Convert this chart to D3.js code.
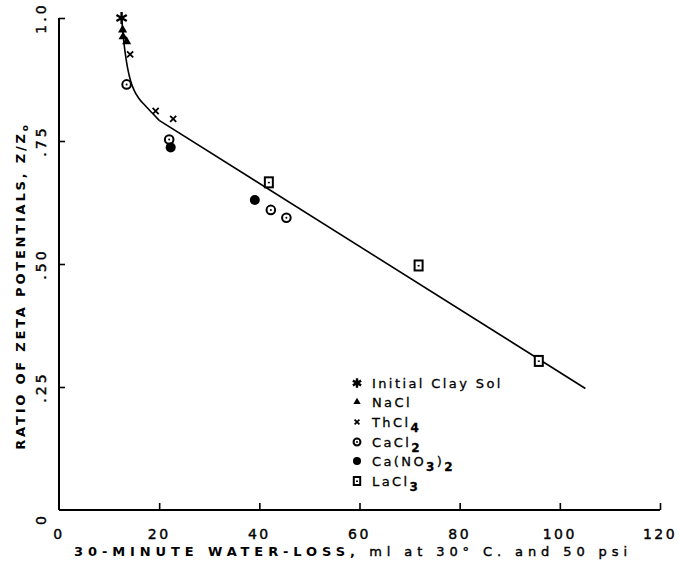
<!DOCTYPE html>
<html><head><meta charset="utf-8">
<script src="https://cdn.jsdelivr.net/npm/d3@7/dist/d3.min.js"></script>
<style>body{margin:0;background:#fff}svg{display:block}text{font-family:"DejaVu Sans",sans-serif;fill:#000}</style>
</head><body><svg id="c" width="679" height="564"></svg>
<script>
// ---- data ----
const xTicks = [0, 20, 40, 60, 80, 100, 120];
const xTickLabels = ["0", "20", "40", "60", "80", "100", "120"];
const yTicks = [0, 0.25, 0.5, 0.75, 1.0];
const yTickLabels = ["0", ".25", ".50", ".75", "1.0"];

const initialX = [12.5];
const initialY = [1.0];
const naclX = [12.7, 12.8, 13.5];
const naclY = [0.976, 0.962, 0.952];
const thcl4X = [14.2, 19.3, 22.8];
const thcl4Y = [0.926, 0.811, 0.795];
const cacl2X = [13.5, 22.0, 42.3, 45.4];
const cacl2Y = [0.865, 0.753, 0.610, 0.594];
const canoX = [22.3, 39.1];
const canoY = [0.737, 0.630];
const lacl3X = [41.9, 71.8, 95.8];
const lacl3Y = [0.666, 0.497, 0.303];

// fitted curve
const curveX = [12.5, 12.8, 13.2, 13.7, 14.3, 15.0, 16.0, 17.2, 18.6, 20.0];
const curveY = [1.0, 0.966, 0.93, 0.898, 0.872, 0.853, 0.836, 0.822, 0.807, 0.792];
const lineX = [20.0, 105.1];
const lineY = [0.792, 0.247];

const legendNames = ["Initial Clay Sol", "NaCl", "ThCl4", "CaCl2", "Ca(NO3)2", "LaCl3"];

// ---- drawing ----
const svg = d3.select("#c");
const x = d3.scaleLinear().domain([0, 120]).range([59, 660]);
const y = d3.scaleLinear().domain([0, 1]).range([510, 18]);

// axes
const bottom = svg.append("g").attr("transform", `translate(0,${y(0)})`)
  .call(d3.axisTop(x).tickValues(xTicks.slice(1)).tickSize(7).tickFormat(""));
bottom.select(".domain").attr("d", `M${x(0)},0H${x(120)}`).attr("stroke", "#000").attr("stroke-width", 2);
bottom.selectAll(".tick line").attr("stroke", "#000").attr("stroke-width", 1.6);

const left = svg.append("g").attr("transform", `translate(${x(0)},0)`)
  .call(d3.axisRight(y).tickValues(yTicks.slice(1)).tickSize(6).tickFormat(""));
left.select(".domain").attr("d", `M0,${y(0)}V${y(1)}`).attr("stroke", "#000").attr("stroke-width", 2);
left.selectAll(".tick line").attr("stroke", "#000").attr("stroke-width", 1.6);

// x tick labels
svg.append("g").selectAll("text").data(xTicks).join("text")
  .attr("x", d => x(d)).attr("y", 539).attr("text-anchor", "middle")
  .attr("font-size", 14).attr("letter-spacing", 2.5)
  .attr("stroke", "#000").attr("stroke-width", 0.4)
  .text((d, i) => xTickLabels[i]);

// y tick labels (rotated)
svg.append("g").selectAll("text").data(yTicks).join("text")
  .attr("transform", d => `translate(46,${y(d) + (d === 0 ? 9 : 0)}) rotate(-90)`)
  .attr("text-anchor", "middle").attr("font-size", 14).attr("letter-spacing", 3)
  .attr("stroke", "#000").attr("stroke-width", 0.4)
  .text((d, i) => yTickLabels[i]);

// axis titles
const xt = svg.append("text").attr("x", 353).attr("y", 556).attr("text-anchor", "middle")
  .attr("font-size", 13).attr("font-weight", "bold").attr("letter-spacing", 4.9);
xt.append("tspan").text("30-MINUTE WATER-LOSS, ");
xt.append("tspan").attr("font-weight", "normal").attr("stroke", "#000").attr("stroke-width", 0.4)
  .text("ml at 30° C. and 50 psi");

const yt = svg.append("text").attr("transform", "translate(25,286) rotate(-90)")
  .attr("text-anchor", "middle").attr("font-size", 13).attr("font-weight", "bold").attr("letter-spacing", 2.8);
yt.append("tspan").text("RATIO OF ZETA POTENTIALS, Z/Z");
yt.append("tspan").attr("font-size", 9).attr("dy", 3).text("o");

// fitted curve
svg.append("path").datum(d3.zip(curveX, curveY))
  .attr("d", d3.line().x(d => x(d[0])).y(d => y(d[1])).curve(d3.curveMonotoneX))
  .attr("fill", "none").attr("stroke", "#000").attr("stroke-width", 1.6);
svg.append("path").datum(d3.zip(lineX, lineY))
  .attr("d", d3.line().x(d => x(d[0])).y(d => y(d[1])))
  .attr("fill", "none").attr("stroke", "#000").attr("stroke-width", 1.6);

// marker drawers
function drawMarker(g, type, cx, cy, s) {
  s = s || 1;
  if (type === 0) {
    g.append("path").attr("transform", `translate(${cx},${cy})`)
      .attr("d", d3.symbol(d3.symbolAsterisk, 100 * s * s)())
      .attr("fill", "none").attr("stroke", "#000").attr("stroke-width", 2.4);
    g.append("circle").attr("cx", cx).attr("cy", cy).attr("r", 2.2 * s).attr("fill", "#000");
  } else if (type === 1) {
    g.append("path").attr("transform", `translate(${cx},${cy})`)
      .attr("d", d3.symbol(d3.symbolTriangle, 36 * s * s)()).attr("fill", "#000");
  } else if (type === 2) {
    g.append("path").attr("transform", `translate(${cx},${cy})`)
      .attr("d", d3.symbol(d3.symbolX, 26 * s * s)())
      .attr("fill", "none").attr("stroke", "#000").attr("stroke-width", 1.8);
  } else if (type === 3) {
    g.append("circle").attr("cx", cx).attr("cy", cy).attr("r", 4.3 * s)
      .attr("fill", "#fff").attr("stroke", "#000").attr("stroke-width", 2);
    g.append("circle").attr("cx", cx).attr("cy", cy).attr("r", 1).attr("fill", "#000");
  } else if (type === 4) {
    g.append("circle").attr("cx", cx).attr("cy", cy).attr("r", 5 * s).attr("fill", "#000");
  } else if (type === 5) {
    const w = 8 * s, h = 10 * s;
    g.append("rect").attr("x", cx - w / 2).attr("y", cy - h / 2).attr("width", w).attr("height", h)
      .attr("fill", "#fff").attr("stroke", "#000").attr("stroke-width", 2);
    g.append("rect").attr("x", cx - 1).attr("y", cy - 0.5).attr("width", 2).attr("height", 1.5).attr("fill", "#000");
  }
}

const series = [
  [initialX, initialY], [naclX, naclY], [thcl4X, thcl4Y],
  [cacl2X, cacl2Y], [canoX, canoY], [lacl3X, lacl3Y]
];
const pts = svg.append("g");
series.forEach((s, t) => {
  s[0].forEach((xv, i) => drawMarker(pts, t, x(xv), y(s[1][i]), 1));
});

// legend
const lg = svg.append("g");
const rowY = [383, 402, 422, 442, 461, 481];
legendNames.forEach((name, i) => {
  drawMarker(lg, i, 357, rowY[i], 0.8);
  const t = lg.append("text").attr("x", 372).attr("y", rowY[i] + 5)
    .attr("font-size", 13).attr("letter-spacing", 2.4)
    .attr("stroke", "#000").attr("stroke-width", 0.3);
  const parts = name.match(/\d+|\D+/g);
  let sub = false;
  parts.forEach(p => {
    if (/^\d+$/.test(p) && i > 0) {
      t.append("tspan").attr("dy", 5).attr("font-size", 12).attr("font-weight", "bold").text(p);
      sub = true;
    } else {
      const ts = t.append("tspan").text(p);
      if (sub) { ts.attr("dy", -5); sub = false; }
    }
  });
});
</script></body></html>
